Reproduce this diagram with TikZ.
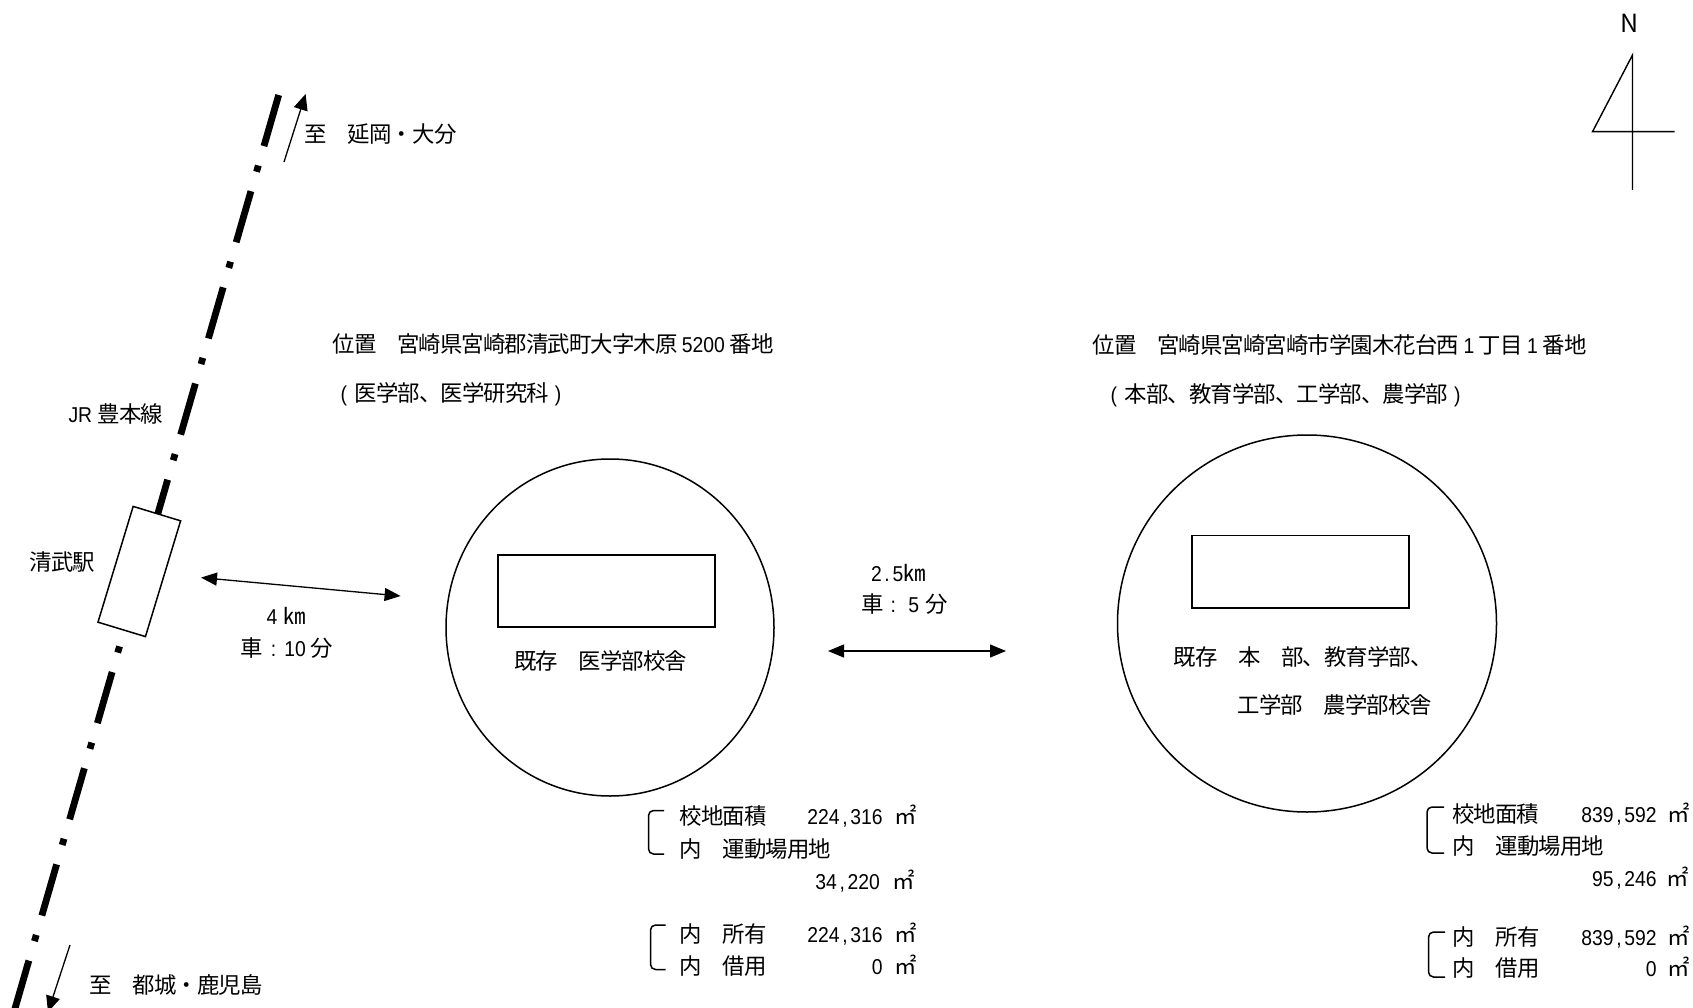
\documentclass[tikz,border=0pt]{standalone}
\usepackage{fontspec}
\usetikzlibrary{arrows.meta,shapes.geometric}
\setmainfont[LetterSpace=-4]{Noto Sans CJK JP}
\newfontfamily\hw[FakeStretch=0.9]{Liberation Sans}
\newcommand{\hs}{\kern4.5pt}
\newcommand{\cma}{\kern2.7pt,\kern2.7pt}
\tikzset{
  txt/.style={inner sep=0pt,outer sep=0pt,anchor=base west,font=\fontsize{22.4}{24}\selectfont},
  val/.style={txt,anchor=base east,font=\fontsize{21.5}{24}\selectfont},
  outline/.style={draw=black,line width=1.5pt},
  thin arrow/.style={draw=black,line width=1.3pt,-{Triangle[length=16pt,width=14pt]}},
  both arrow/.style={draw=black,line width=1.3pt,{Triangle[length=16pt,width=13pt]}-{Triangle[length=16pt,width=13pt]}},
  rail/.style={draw=black,line width=6.8pt,dash pattern=on 53.2pt off 20.2pt on 6.5pt off 20.2pt},
  bracket/.style={draw=black,line width=1.5pt,rounded corners=5pt}
}
\begin{document}
\begin{tikzpicture}[x=1pt,y=-1pt]
\useasboundingbox (0,0) rectangle (1693,1008);
% railway
\coordinate (railtop) at (278.7,95);
\coordinate (railbot) at (14,1012);
\path[rail] (railtop) -- (railbot);
\node[outline,fill=white,rectangle,minimum width=49.6pt,minimum height=121pt,inner sep=0pt,rotate=-16.9] (station) at (139.3,571.5) {};
\coordinate (upA) at (284,162);
\coordinate (upB) at (305.6,94);
\path[thin arrow] (upA) -- (upB);
\coordinate (dnA) at (70,945);
\coordinate (dnB) at (48,1012);
\path[thin arrow] (dnA) -- (dnB);
\node[txt] (toN) at (304.5,143) {至　延岡\kern-.5pt・\kern-.5pt大分};
\node[txt] (toS) at (89.5,993) {至　都城・鹿児島};
\node[txt] (jr) at (68.5,422) {{\hw\fontsize{21.5}{24}\selectfont JR}\kern5.5pt 豊本線};
\node[txt] (stn) at (29.5,570) {清武駅};
% distance arrows
\coordinate (d1a) at (201,577.6);
\coordinate (d1b) at (400.6,596);
\path[both arrow] (d1a) -- (d1b);
\coordinate (d2a) at (828,651);
\coordinate (d2b) at (1006,651);
\path[both arrow] (d2a) -- (d2b);
\node[txt] (km4) at (266.5,624.5) {{\hw\fontsize{21.5}{24}\selectfont 4}\kern6pt㎞};
\node[txt] (car10) at (240.5,656) {車{\hw\fontsize{21.5}{24}\selectfont\kern8pt:\kern8pt 10}\kern5pt分};
\node[txt] (km25) at (871,581) {{\hw\fontsize{21.5}{24}\selectfont 2\kern2.7pt.\kern2.7pt5}㎞};
\node[txt] (car5) at (861.6,612.6) {車{\hw\fontsize{21.5}{24}\selectfont\kern6.5pt:\kern12.6pt 5}\kern6.6pt分};
% campuses
\node[outline,ellipse,minimum width=328pt,minimum height=337pt,inner sep=0pt] (campusL) at (610,627.5) {};
\node[outline,ellipse,minimum width=379pt,minimum height=377pt,inner sep=0pt] (campusR) at (1307,623.5) {};
\node[outline,rectangle,minimum width=217pt,minimum height=72pt,inner sep=0pt] (bldgL) at (606.5,591) {};
\node[outline,rectangle,minimum width=217pt,minimum height=72.5pt,inner sep=0pt] (bldgR) at (1300.5,571.7) {};
\node[txt] (exL) at (514,669) {既存　医学部校舎};
\node[txt] (exR1) at (1173.6,665.5) {既存　本　部、教育学部、};
\node[txt] (exR2) at (1237.5,713) {工学部　農学部校舎};
% addresses
\node[txt] (addrL) at (332.5,352.5) {位置　宮崎県宮崎郡清武町大字木原\hs{\hw\fontsize{21.5}{24}\selectfont 5200}\hs 番地};
\node[txt] (facL) at (340.5,401) {{\hw\fontsize{21.5}{24}\selectfont(}\kern7.6pt 医学部、医学研究科\kern6pt{\hw\fontsize{21.5}{24}\selectfont)}};
\node[txt] (addrR) at (1092.6,353.5) {位置　宮崎県宮崎宮崎市学園木花台西\hs{\hw\fontsize{21.5}{24}\selectfont 1}\hs 丁目\hs{\hw\fontsize{21.5}{24}\selectfont 1}\hs 番地};
\node[txt] (facR) at (1110.5,402) {{\hw\fontsize{21.5}{24}\selectfont(}\kern7.6pt 本部、教育学部、工学部、農学部\kern6pt{\hw\fontsize{21.5}{24}\selectfont)}};
% left table
\path[bracket] (664,810.5) -- (648.5,810.5) -- (648.5,854) -- (664,854);
\path[bracket] (665.7,925) -- (650.5,925) -- (650.5,969.5) -- (665.7,969.5);
\node[txt] (la1) at (679.5,824.5) {校地面積};
\node[val] (la2) at (882.7,824.5) {\hw 224\cma 316};
\node[txt] (la3) at (894,824.5) {㎡};
\node[txt] (lb1) at (679.5,857.5) {内　運動場用地};
\node[val] (lc2) at (880,889.5) {\hw 34\cma 220};
\node[txt] (lc3) at (892,889.5) {㎡};
\node[txt] (ld1) at (679.5,942) {内　所有};
\node[val] (ld2) at (882.7,942) {\hw 224\cma 316};
\node[txt] (ld3) at (894,942) {㎡};
\node[txt] (le1) at (679.5,974) {内　借用};
\node[val] (le2) at (882.7,974) {\hw 0};
\node[txt] (le3) at (894,974) {㎡};
% right table
\path[bracket] (1444,807) -- (1427,807) -- (1427,853) -- (1444,853);
\path[bracket] (1445,932) -- (1428.5,932) -- (1428.5,977) -- (1445,977);
\node[txt] (ra1) at (1452.3,822) {校地面積};
\node[val] (ra2) at (1656.7,822) {\hw 839\cma 592};
\node[txt] (ra3) at (1667.5,822) {㎡};
\node[txt] (rb1) at (1452.5,854.5) {内　運動場用地};
\node[val] (rc2) at (1656.7,886) {\hw 95\cma 246};
\node[txt] (rc3) at (1666.5,886) {㎡};
\node[txt] (rd1) at (1452.5,945) {内　所有};
\node[val] (rd2) at (1656.7,945) {\hw 839\cma 592};
\node[txt] (rd3) at (1667.5,945) {㎡};
\node[txt] (re1) at (1452.5,976.5) {内　借用};
\node[val] (re2) at (1656.7,976.5) {\hw 0};
\node[txt] (re3) at (1667.5,976.5) {㎡};
% north mark
\node[txt,anchor=center,font=\fontsize{25}{26}\selectfont] (north) at (1630,23.5) {N};
\coordinate (nt) at (1632.5,55);
\coordinate (nb) at (1632.5,190);
\coordinate (nl) at (1592.5,131.7);
\coordinate (nr) at (1674.6,131.7);
\draw[black,line width=1.4pt] (nb) -- (nt) -- (nl) -- (nr);
\end{tikzpicture}
\end{document}
